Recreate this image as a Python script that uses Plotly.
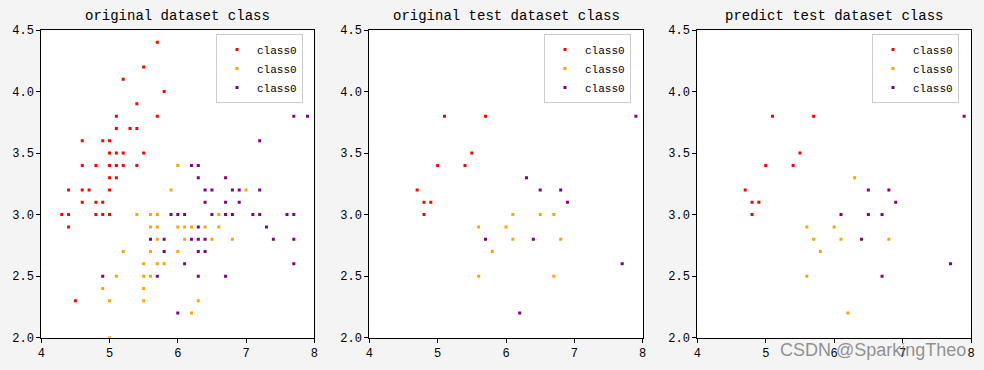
import plotly.graph_objects as go

# ---------------- data (sepal length, sepal width) ----------------
# subplot 1: original dataset class
orig_c0_x = [5.7,5.5,5.2,5.8,5.4,5.1,5.7,5.1,5.3,5.4,4.6,4.9,5.0,5.0,5.1,5.2,5.5,4.6,4.8,5.0,5.1,5.2,5.4,5.0,5.1,4.4,4.6,4.7,5.0,4.6,4.8,4.9,4.3,4.4,4.8,4.9,5.0,4.4,4.5]
orig_c0_y = [4.4,4.2,4.1,4.0,3.9,3.8,3.8,3.7,3.7,3.7,3.6,3.6,3.6,3.5,3.5,3.5,3.5,3.4,3.4,3.4,3.4,3.4,3.4,3.3,3.3,3.2,3.2,3.2,3.2,3.1,3.1,3.1,3.0,3.0,3.0,3.0,3.0,2.9,2.3]
orig_c1_x = [6.0,5.9,7.0,5.4,5.6,5.7,6.6,5.6,5.7,6.0,6.1,6.2,6.4,6.6,5.7,6.1,6.5,6.8,5.2,5.6,6.0,5.5,5.7,5.8,5.1,5.5,5.6,4.9,5.5,5.0,5.5,6.3,6.2,5.0]
orig_c1_y = [3.4,3.2,3.2,3.0,3.0,3.0,3.0,2.9,2.9,2.9,2.9,2.9,2.9,2.9,2.8,2.8,2.8,2.8,2.7,2.7,2.7,2.6,2.6,2.6,2.5,2.5,2.5,2.4,2.4,2.3,2.3,2.3,2.2,2.0]
orig_c2_x = [7.7,7.9,7.2,6.2,6.3,6.3,6.7,6.4,6.5,6.8,6.9,7.2,6.4,6.7,6.9,5.9,6.0,6.1,6.5,6.7,6.8,7.1,7.2,7.6,7.7,6.3,7.3,5.6,5.8,6.2,6.3,6.4,7.4,7.7,5.8,6.3,6.4,6.1,7.7,4.9,5.7,6.3,6.7,6.0]
orig_c2_y = [3.8,3.8,3.6,3.4,3.4,3.3,3.3,3.2,3.2,3.2,3.2,3.2,3.1,3.1,3.1,3.0,3.0,3.0,3.0,3.0,3.0,3.0,3.0,3.0,3.0,2.9,2.9,2.8,2.8,2.8,2.8,2.8,2.8,2.8,2.7,2.7,2.7,2.6,2.6,2.5,2.5,2.5,2.5,2.2]

# subplot 2: original test dataset class
test_c0_x = [5.1,5.7,5.5,5.0,5.4,4.7,4.8,4.9,4.8]
test_c0_y = [3.8,3.8,3.5,3.4,3.4,3.2,3.1,3.1,3.0]
test_c1_x = [5.6,6.0,6.1,6.1,5.8,5.6,6.5,6.7,6.8,6.7]
test_c1_y = [2.9,2.9,3.0,2.8,2.7,2.5,3.0,3.0,2.8,2.5]
test_c2_x = [5.7,7.9,6.3,6.5,6.8,6.9,6.4,7.7,6.2]
test_c2_y = [2.8,3.8,3.3,3.2,3.2,3.1,2.8,2.6,2.2]

# subplot 3: predict test dataset class
pred_c0_x = [5.1,5.7,5.5,5.0,5.4,4.7,4.8,4.9,4.8]
pred_c0_y = [3.8,3.8,3.5,3.4,3.4,3.2,3.1,3.1,3.0]
pred_c1_x = [5.6,6.0,5.7,6.1,5.8,5.6,6.3,6.8,6.2]
pred_c1_y = [2.9,2.9,2.8,2.8,2.7,2.5,3.3,2.8,2.2]
pred_c2_x = [6.1,7.9,6.5,6.8,6.9,6.5,6.7,6.4,7.7,6.7]
pred_c2_y = [3.0,3.8,3.2,3.2,3.1,3.0,3.0,2.8,2.6,2.5]

titles = ["original dataset class", "original test dataset class", "predict test dataset class"]
class_names = ["class0", "class0", "class0"]
colors = ["#ff0000", "#ffa500", "#800080"]
x_ticks = [4, 5, 6, 7, 8]
y_ticks = [2.0, 2.5, 3.0, 3.5, 4.0, 4.5]

panels = [
    [(orig_c0_x, orig_c0_y), (orig_c1_x, orig_c1_y), (orig_c2_x, orig_c2_y)],
    [(test_c0_x, test_c0_y), (test_c1_x, test_c1_y), (test_c2_x, test_c2_y)],
    [(pred_c0_x, pred_c0_y), (pred_c1_x, pred_c1_y), (pred_c2_x, pred_c2_y)],
]

W, H = 984, 370
x_domains = [(41.3, 314.3), (369.3, 642.7), (697.3, 971.0)]
y_dom = ((H - 337.7) / H, (H - 30.0) / H)
legend_left = [216, 544, 872]

MONO = "Liberation Mono, DejaVu Sans Mono, monospace"

fig = go.Figure()
layout = dict(
    width=W, height=H,
    paper_bgcolor="#f4f4f4",
    plot_bgcolor="#ffffff",
    margin=dict(l=0, r=0, t=0, b=0, autoexpand=False),
    showlegend=True,
    annotations=[],
)

for i, panel in enumerate(panels):
    ax = "" if i == 0 else str(i + 1)
    leg = "legend" if i == 0 else f"legend{i + 1}"
    for k, (xs, ys) in enumerate(panel):
        fig.add_trace(go.Scatter(
            x=xs, y=ys, mode="markers", name=class_names[k],
            marker=dict(symbol="square", size=3, color=colors[k], line=dict(width=0)),
            xaxis="x" + ax, yaxis="y" + ax, legend=leg,
        ))
    axis_common = dict(
        showline=True, linecolor="black", linewidth=1, mirror=True,
        ticks="outside", ticklen=4, tickwidth=1, tickcolor="black",
        showgrid=False, zeroline=False, automargin=False,
        tickfont=dict(family=MONO, size=12, color="black"),
    )
    d0, d1 = x_domains[i]
    layout["xaxis" + ax] = dict(
        axis_common, domain=[d0 / W, d1 / W], range=[4, 8],
        tickmode="array", tickvals=x_ticks, anchor="y" + ax,
    )
    layout["yaxis" + ax] = dict(
        axis_common, domain=list(y_dom), range=[2.0, 4.5],
        tickmode="array", tickvals=y_ticks, tickformat=".1f", anchor="x" + ax,
    )
    layout[leg] = dict(
        x=legend_left[i] / W, y=(H - 34) / H, xanchor="left", yanchor="top",
        xref="paper", yref="paper",
        bgcolor="#ffffff", bordercolor="#cccccc", borderwidth=1,
        font=dict(family=MONO, size=11, color="black"),
        tracegroupgap=0,
    )
    layout["annotations"].append(dict(
        text=titles[i], x=(d0 + d1) / 2 / W, y=(H - 16) / H,
        xref="paper", yref="paper", xanchor="center", yanchor="middle",
        showarrow=False, font=dict(family=MONO, size=14, color="black"),
    ))

layout["annotations"].append(dict(
    text="CSDN @SparkingTheo", x=968 / W, y=(H - 350) / H,
    xref="paper", yref="paper", xanchor="right", yanchor="middle",
    showarrow=False, font=dict(family="Liberation Sans, Arial, sans-serif", size=18,
                               color="rgba(110,110,110,0.75)"),
))

fig.update_layout(**layout)
fig.write_html("out.html")
